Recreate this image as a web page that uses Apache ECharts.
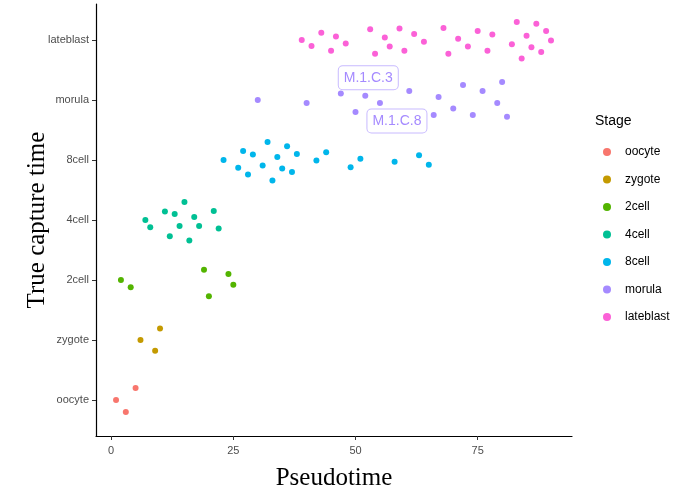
<!DOCTYPE html>
<html>
<head>
<meta charset="utf-8">
<script src="https://cdn.jsdelivr.net/npm/echarts@6/dist/echarts.min.js"></script>
<style>html,body{margin:0;padding:0;background:#fff}#c{width:683px;height:491px}</style>
</head>
<body>
<div id="c"></div>
<script>
const stages = ['oocyte','zygote','2cell','4cell','8cell','morula','lateblast'];
const colors = ['#F8766D','#C49A00','#53B400','#00C094','#00B6EB','#A58AFF','#FB61D7'];
const xTicks = [0,25,50,75];

// [pseudotime, jittered capture-time position]
const oocyte = [[5,1.2],[1,1.0],[3,0.8]];
const zygote = [[10,2.19],[6,2.0],[9,1.82]];
const cell2 = [[2,3.0],[4,2.88],[19,3.17],[24,3.1],[25,2.92],[20,2.73]];
const cell4 = [[15,4.3],[11,4.14],[13,4.1],[7,4.0],[8,3.88],[14,3.9],[17,4.05],[18,3.9],[21,4.15],[22,3.86],[12,3.73],[16,3.66]];
const cell8 = [[23,5.0],[27,5.15],[29,5.09],[26,4.87],[28,4.76],[32,5.3],[31,4.91],[34,5.05],[36,5.23],[38,5.1],[35,4.86],[37,4.8],[33,4.66],[42,4.99],[44,5.13],[49,4.88],[51,5.02],[58,4.97],[63,5.08],[65,4.92]];
const morula = [[30,6.0],[40,5.95],[47,6.11],[50,5.8],[52,6.07],[55,5.95],[61,6.15],[66,5.75],[67,6.05],[70,5.86],[72,6.25],[74,5.75],[76,6.15],[79,5.95],[80,6.3],[81,5.72]];
const lateblast = [[39,7.0],[41,6.9],[43,7.12],[45,6.82],[46,7.06],[48,6.94],[53,7.18],[54,6.77],[56,7.04],[57,6.89],[59,7.19],[60,6.82],[62,7.1],[64,6.97],[68,7.2],[69,6.77],[71,7.02],[73,6.89],[75,7.15],[77,6.82],[78,7.09],[82,6.93],[83,7.3],[84,6.69],[85,7.07],[86,6.88],[87,7.27],[88,6.8],[89,7.15],[90,6.99]];
const cellLabels = {4:'M.1.C.3', 5:'M.1.C.8'}; // index in morula array -> label

const seriesData = [oocyte, zygote, cell2, cell4, cell8, morula, lateblast];
const labelOffsets = {4:[3,-18], 5:[17,18]};

const chart = echarts.init(document.getElementById('c'), null, {renderer:'canvas'});
const series = stages.map((s,i)=>({
  name: s,
  type: 'scatter',
  symbol: 'circle',
  symbolSize: 6,
  itemStyle: {color: colors[i], opacity: 1},
  emphasis: {disabled: true},
  data: seriesData[i].map((p,j)=>{
    if (i===5 && cellLabels[j]) {
      return {value: p, label: {
        show: true, formatter: cellLabels[j], position: 'inside', offset: labelOffsets[j],
        color: '#A58AFF', fontSize: 14, fontFamily: 'Liberation Sans, Arial, sans-serif',
        backgroundColor: '#fff', borderColor: '#C8BAFF', borderWidth: 1, borderRadius: 4,
        padding: [5,5,4,5]
      }};
    }
    return p;
  })
}));

chart.setOption({
  animation: false,
  backgroundColor: '#fff',
  grid: {left: 96, right: 111, top: 4, bottom: 55, containLabel: false, outerBoundsMode: 'none'},
  title: {text: 'Stage', left: 590, top: 109, textStyle: {fontSize: 14, fontWeight: 'normal', color: '#000', fontFamily: 'Liberation Sans, Arial, sans-serif'}},
  legend: {
    orient: 'vertical', left: 598, top: 141,
    itemWidth: 8, itemHeight: 9, itemGap: 15.5,
    icon: 'circle',
    textStyle: {fontSize: 12, color: '#000', padding: [0,0,0,9], fontFamily: 'Liberation Sans, Arial, sans-serif'},
    data: stages
  },
  xAxis: {
    type: 'value', min: -3.1, max: 94.3,
    name: 'Pseudotime', nameLocation: 'middle', nameGap: 30, nameMoveOverlap: false,
    nameTextStyle: {fontFamily: 'Liberation Serif, Times New Roman, serif', fontSize: 25, color: '#000'},
    axisLine: {show: true, onZero: false, lineStyle: {color: '#000', width: 1.2}},
    axisTick: {show: true, length: 4, customValues: xTicks, lineStyle: {color: '#333'}},
    axisLabel: {customValues: xTicks, color: '#4D4D4D', fontSize: 11, margin: 9, fontFamily: 'Liberation Sans, Arial, sans-serif'},
    splitLine: {show: false}
  },
  yAxis: {
    type: 'value', min: 0.4, max: 7.6,
    name: 'True capture time', nameLocation: 'middle', nameGap: 46, nameMoveOverlap: false,
    nameTextStyle: {fontFamily: 'Liberation Serif, Times New Roman, serif', fontSize: 25, color: '#000'},
    axisLine: {show: true, onZero: false, lineStyle: {color: '#000', width: 1.2}},
    axisTick: {show: true, length: 4, customValues: [1,2,3,4,5,6,7], lineStyle: {color: '#333'}},
    axisLabel: {customValues: [1,2,3,4,5,6,7], color: '#4D4D4D', fontSize: 11, margin: 7,
      fontFamily: 'Liberation Sans, Arial, sans-serif',
      formatter: v => stages[Math.round(v)-1] || ''},
    splitLine: {show: false}
  },
  series: series
});
</script>
</body>
</html>
